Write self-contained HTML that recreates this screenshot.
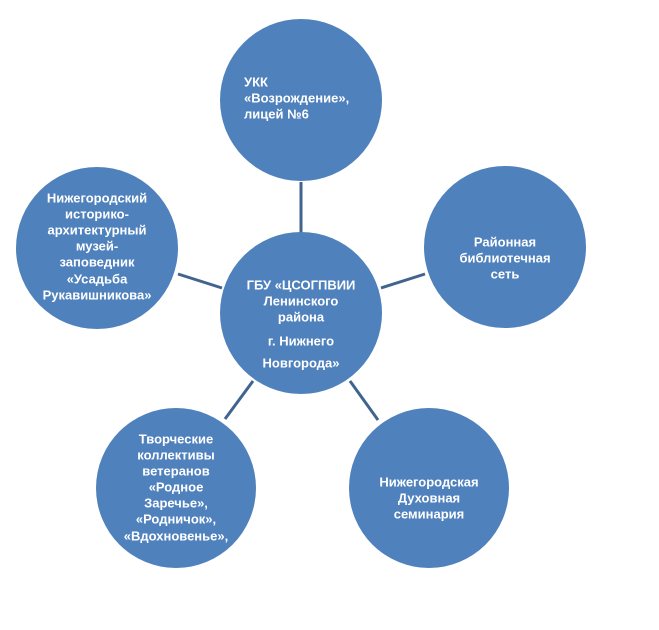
<!DOCTYPE html>
<html><head><meta charset="utf-8"><style>
html,body{margin:0;padding:0;background:#fff;width:659px;height:630px;overflow:hidden}
svg text{font-family:"Liberation Sans","DejaVu Sans",sans-serif;font-weight:bold;font-size:13px;fill:#fff}
</style></head><body>
<svg width="659" height="630" viewBox="0 0 659 630" xmlns="http://www.w3.org/2000/svg">
<g stroke="#41648f" stroke-width="3">
<line x1="301" y1="182" x2="301" y2="233"/>
<line x1="381" y1="288" x2="425" y2="274"/>
<line x1="178" y1="274" x2="222" y2="288"/>
<line x1="253" y1="381" x2="225" y2="419"/>
<line x1="350" y1="381" x2="378" y2="420"/>
</g>
<g fill="#4f81bd">
<circle cx="301" cy="100" r="81"/>
<circle cx="301" cy="313" r="81"/>
<circle cx="505" cy="247" r="81"/>
<circle cx="97" cy="248" r="81"/>
<circle cx="176" cy="488" r="80"/>
<circle cx="429" cy="488" r="80"/>
</g>
<g dominant-baseline="central">
<text x="244" y="82">УКК</text>
<text x="244" y="98">«Возрождение»,</text>
<text x="244" y="114">лицей №6</text>
</g>
<g text-anchor="middle" dominant-baseline="central">
<text x="301" y="285">ГБУ «ЦСОГПВИИ</text>
<text x="301" y="301">Ленинского</text>
<text x="301" y="317">района</text>
<text x="301" y="341">г. Нижнего</text>
<text x="301" y="363">Новгорода»</text>

<text x="505" y="242">Районная</text>
<text x="505" y="258">библиотечная</text>
<text x="505" y="274">сеть</text>

<text x="97" y="198">Нижегородский</text>
<text x="97" y="214">историко-</text>
<text x="97" y="230">архитектурный</text>
<text x="97" y="246">музей-</text>
<text x="97" y="262">заповедник</text>
<text x="97" y="279">«Усадьба</text>
<text x="97" y="295">Рукавишникова»</text>

<text x="176" y="439">Творческие</text>
<text x="176" y="455">коллективы</text>
<text x="176" y="471">ветеранов</text>
<text x="176" y="487">«Родное</text>
<text x="176" y="503">Заречье»,</text>
<text x="176" y="519">«Родничок»,</text>
<text x="176" y="536">«Вдохновенье»,</text>

<text x="429" y="482">Нижегородская</text>
<text x="429" y="498">Духовная</text>
<text x="429" y="514">семинария</text>
</g>
</svg>
</body></html>
